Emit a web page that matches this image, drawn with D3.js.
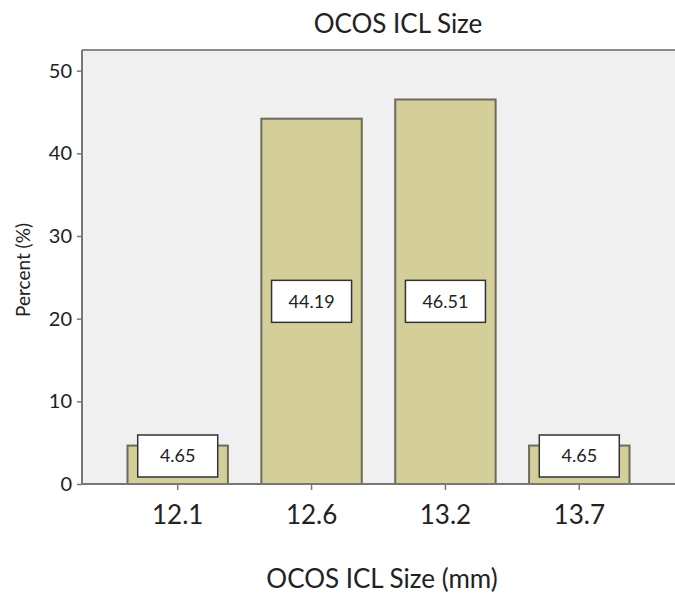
<!DOCTYPE html>
<html>
<head>
<meta charset="utf-8">
<script src="https://cdn.jsdelivr.net/npm/d3@7"></script>
<style>
  body { margin: 0; background: #fff; }
  svg { display: block; }
  text { font-family: Lato, "Open Sans", sans-serif; fill: #222; }
</style>
</head>
<body>
<svg id="chart" width="675" height="597"></svg>
<script>
// Distribution of implanted lens sizes
const categories = ["12.1", "12.6", "13.2", "13.7"];
const percents = [4.65, 44.19, 46.51, 4.65];
const yTicks = [0, 10, 20, 30, 40, 50];

(function () {
const svg = d3.select("#chart");
const plotLeft = 82, plotRight = 675, plotTop = 50, plotBottom = 484;
const font = "Lato, 'Open Sans', sans-serif";

const x = d3.scaleBand().domain(categories).range([plotLeft, plotRight])
  .paddingInner(0.25).paddingOuter(0.34);
const y = d3.scaleLinear().domain([0, 52.5]).range([plotBottom, plotTop]);

// plot background
svg.append("rect")
  .attr("x", plotLeft).attr("y", plotTop)
  .attr("width", plotRight - plotLeft).attr("height", plotBottom - plotTop)
  .attr("fill", "#f0f0f0");

// top frame line
svg.append("line")
  .attr("x1", plotLeft).attr("x2", plotRight).attr("y1", plotTop).attr("y2", plotTop)
  .attr("stroke", "#8a8a8a").attr("stroke-width", 2);

// bars
svg.append("g").selectAll("rect")
  .data(categories)
  .join("rect")
  .attr("x", d => x(d))
  .attr("y", (d, i) => y(percents[i]))
  .attr("width", x.bandwidth())
  .attr("height", (d, i) => plotBottom - y(percents[i]))
  .attr("fill", "#d4cf98")
  .attr("stroke", "#6c6a5a")
  .attr("stroke-width", 2);

// y axis
const yAxis = svg.append("g")
  .attr("transform", `translate(${plotLeft},0)`)
  .call(d3.axisLeft(y).tickValues(yTicks).tickSize(5).tickPadding(5).tickFormat(d3.format("d")));
yAxis.select(".domain").attr("stroke", "#777").attr("stroke-width", 2)
  .attr("d", `M0,${plotBottom}V${plotTop}`);
yAxis.selectAll(".tick line").attr("stroke", "#777").attr("stroke-width", 1.5);
yAxis.selectAll(".tick text").attr("font-size", 20).attr("fill", "#222")
  .style("font-family", font);

// x axis
const xAxis = svg.append("g")
  .attr("transform", `translate(0,${plotBottom})`)
  .call(d3.axisBottom(x).tickSize(6).tickPadding(16));
xAxis.select(".domain").attr("stroke", "#777").attr("stroke-width", 2)
  .attr("d", `M${plotLeft},0H${plotRight}`);
xAxis.selectAll(".tick line").attr("stroke", "#777").attr("stroke-width", 1.5);
xAxis.selectAll(".tick text").attr("font-size", 26).attr("fill", "#222")
  .style("font-family", font);

// value labels in boxes: tall bars share one label line, short bars keep the box above the axis
const boxW = 80, boxH = 42;
const labelLine = d3.min(percents.filter(v => v > 10)) / 2;
const labels = svg.append("g").selectAll("g")
  .data(categories)
  .join("g")
  .attr("transform", (d, i) => {
    const cy = Math.min(y(Math.min(percents[i] / 2, labelLine)), plotBottom - 7 - boxH / 2);
    return `translate(${x(d) + x.bandwidth() / 2},${cy})`;
  });
labels.append("rect")
  .attr("x", -boxW / 2).attr("y", -boxH / 2)
  .attr("width", boxW).attr("height", boxH)
  .attr("fill", "#fff").attr("stroke", "#333").attr("stroke-width", 1.5);
labels.append("text")
  .attr("text-anchor", "middle").attr("dy", "0.36em")
  .attr("font-size", 18)
  .text((d, i) => percents[i].toFixed(2));

// titles
svg.append("text")
  .attr("x", 398).attr("y", 33)
  .attr("text-anchor", "middle").attr("font-size", 26)
  .text("OCOS ICL Size");
svg.append("text")
  .attr("x", 382).attr("y", 588)
  .attr("text-anchor", "middle").attr("font-size", 26)
  .text("OCOS ICL Size (mm)");
svg.append("text")
  .attr("transform", "translate(30,270) rotate(-90)")
  .attr("text-anchor", "middle").attr("font-size", 19)
  .text("Percent (%)");
})();
</script>
</body>
</html>
